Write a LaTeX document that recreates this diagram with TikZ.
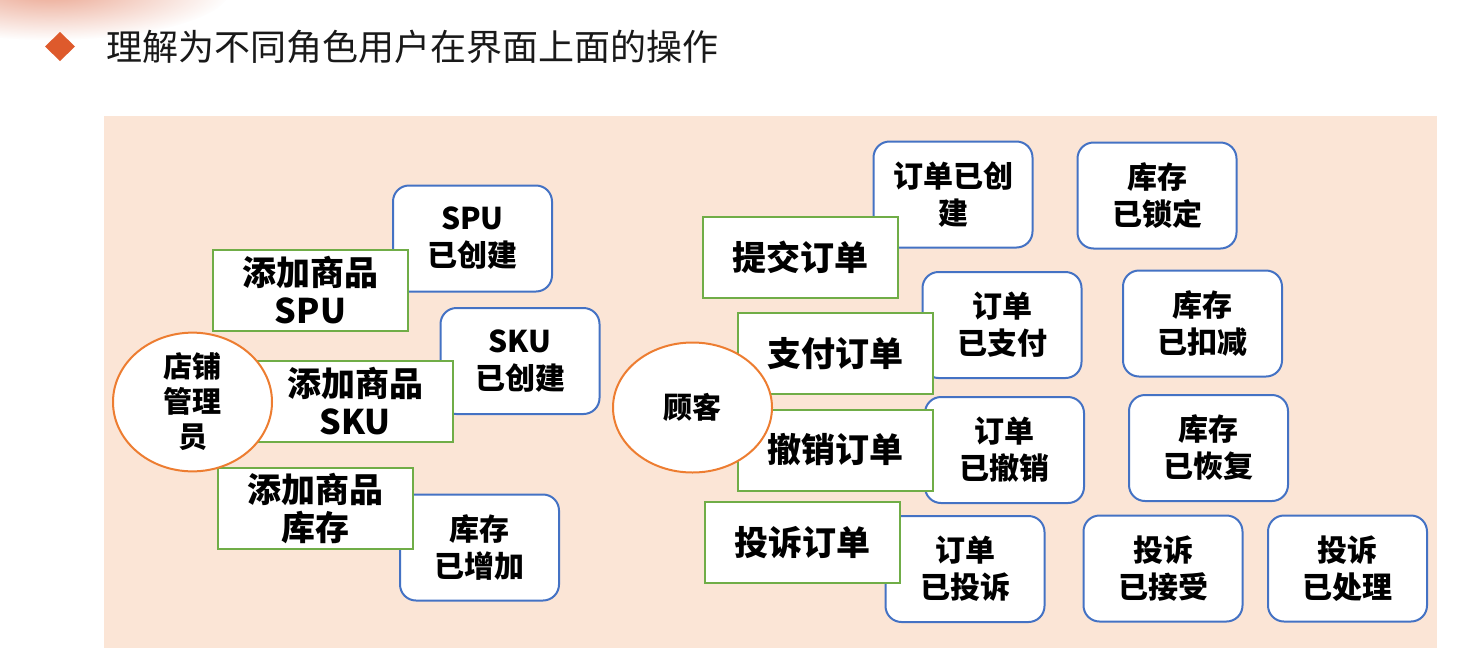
\documentclass[tikz,border=0pt]{standalone}
\usepackage{fontspec}
\usepackage{tikz}
\usetikzlibrary{shapes.geometric, fadings}
\newfontfamily\cjk{Noto Sans CJK SC}
\definecolor{bgpeach}{HTML}{FBE5D6}
\definecolor{stateblue}{HTML}{4472C4}
\definecolor{actgreen}{HTML}{70AD47}
\definecolor{roleorange}{HTML}{ED7D31}
\definecolor{bulletred}{HTML}{DE5A2C}
\definecolor{blobsalmon}{HTML}{EBA58F}
\newcommand\statefont{\cjk\bfseries\fontsize{30}{37}\selectfont}
\newcommand\actfont{\cjk\bfseries\fontsize{34}{38}\selectfont}
\newcommand\rolefont{\cjk\bfseries\fontsize{29}{35}\selectfont}
\tikzfading[name=blobfade, inner color=transparent!0, outer color=transparent!100]

\begin{document}
\begin{tikzpicture}[x=1pt, y=-1pt,
		state/.style={draw=stateblue, fill=white, line width=2pt, rounded corners=16pt, minimum width=159pt, minimum height=106pt, inner sep=0pt, align=center, font=\statefont},
		action/.style={draw=actgreen, fill=white, line width=2pt, minimum width=195pt, minimum height=81pt, inner sep=0pt, align=center, font=\actfont},
		role/.style={draw=roleorange, fill=white, ellipse, line width=2pt, minimum width=159pt, minimum height=130pt, inner sep=0pt, align=center, font=\rolefont}]
		\useasboundingbox (0,0) rectangle (1462,670);
		\fill[white] (0,0) rectangle (1462,670);
		
		% header
		\fill[blobsalmon, path fading=blobfade] (50,-10) ellipse (180pt and 50pt);
		\fill[bulletred] (60,32) -- (75,46.5) -- (60,61) -- (45,46.5) -- cycle;
		\node[anchor=base west, inner sep=0pt, font=\cjk\fontsize{36}{40}\selectfont, text=black!90] (title) at (106,60) {理解为不同角色用户在界面上面的操作};
		
		\fill[bgpeach] (104,116) rectangle (1437,648);
		
		% 店铺管理员
		\node[state] (spuDone) at (472.5,238.5) {SPU\\已创建};
		\node[action] (addSpu) at (310.5,290.5) {添加商品\\SPU};
		\node[state] (skuDone) at (520,361) {SKU\\已创建};
		\node[action] (addSku) at (355,401) {添加商品\\SKU};
		\node[state] (stockUp) at (479.5,547.5) {库存\\已增加};
		\node[action] (addStock) at (315.5,508.5) {添加商品\\库存};
		\node[role] (admin) at (192.5,402) {店铺\\管理\\员};
		
		% 顾客
		\node[state] (orderCreated) at (953,194.5) {订单已创\\建};
		\node[state] (orderPaid) at (1002,325) {订单\\已支付};
		\node[state] (orderCancelled) at (1004.5,450) {订单\\已撤销};
		\node[state] (orderComplained) at (965,569) {订单\\已投诉};
		\node[action] (submit) at (800,257.5) {提交订单};
		\node[action] (pay) at (835.5,353.5) {支付订单};
		\node[action] (cancel) at (835.5,450) {撤销订单};
		\node[action] (complain) at (802,542.5) {投诉订单};
		\node[role] (customer) at (692.5,407.5) {顾客};
		
		\node[state] (stockLocked) at (1157,195.5) {库存\\已锁定};
		\node[state] (stockDeducted) at (1202.5,323.5) {库存\\已扣减};
		\node[state] (stockRestored) at (1208.5,448) {库存\\已恢复};
		\node[state] (complaintAccepted) at (1163,568.5) {投诉\\已接受};
		\node[state] (complaintHandled) at (1347.5,568.5) {投诉\\已处理};
	\end{tikzpicture}
\end{document}
